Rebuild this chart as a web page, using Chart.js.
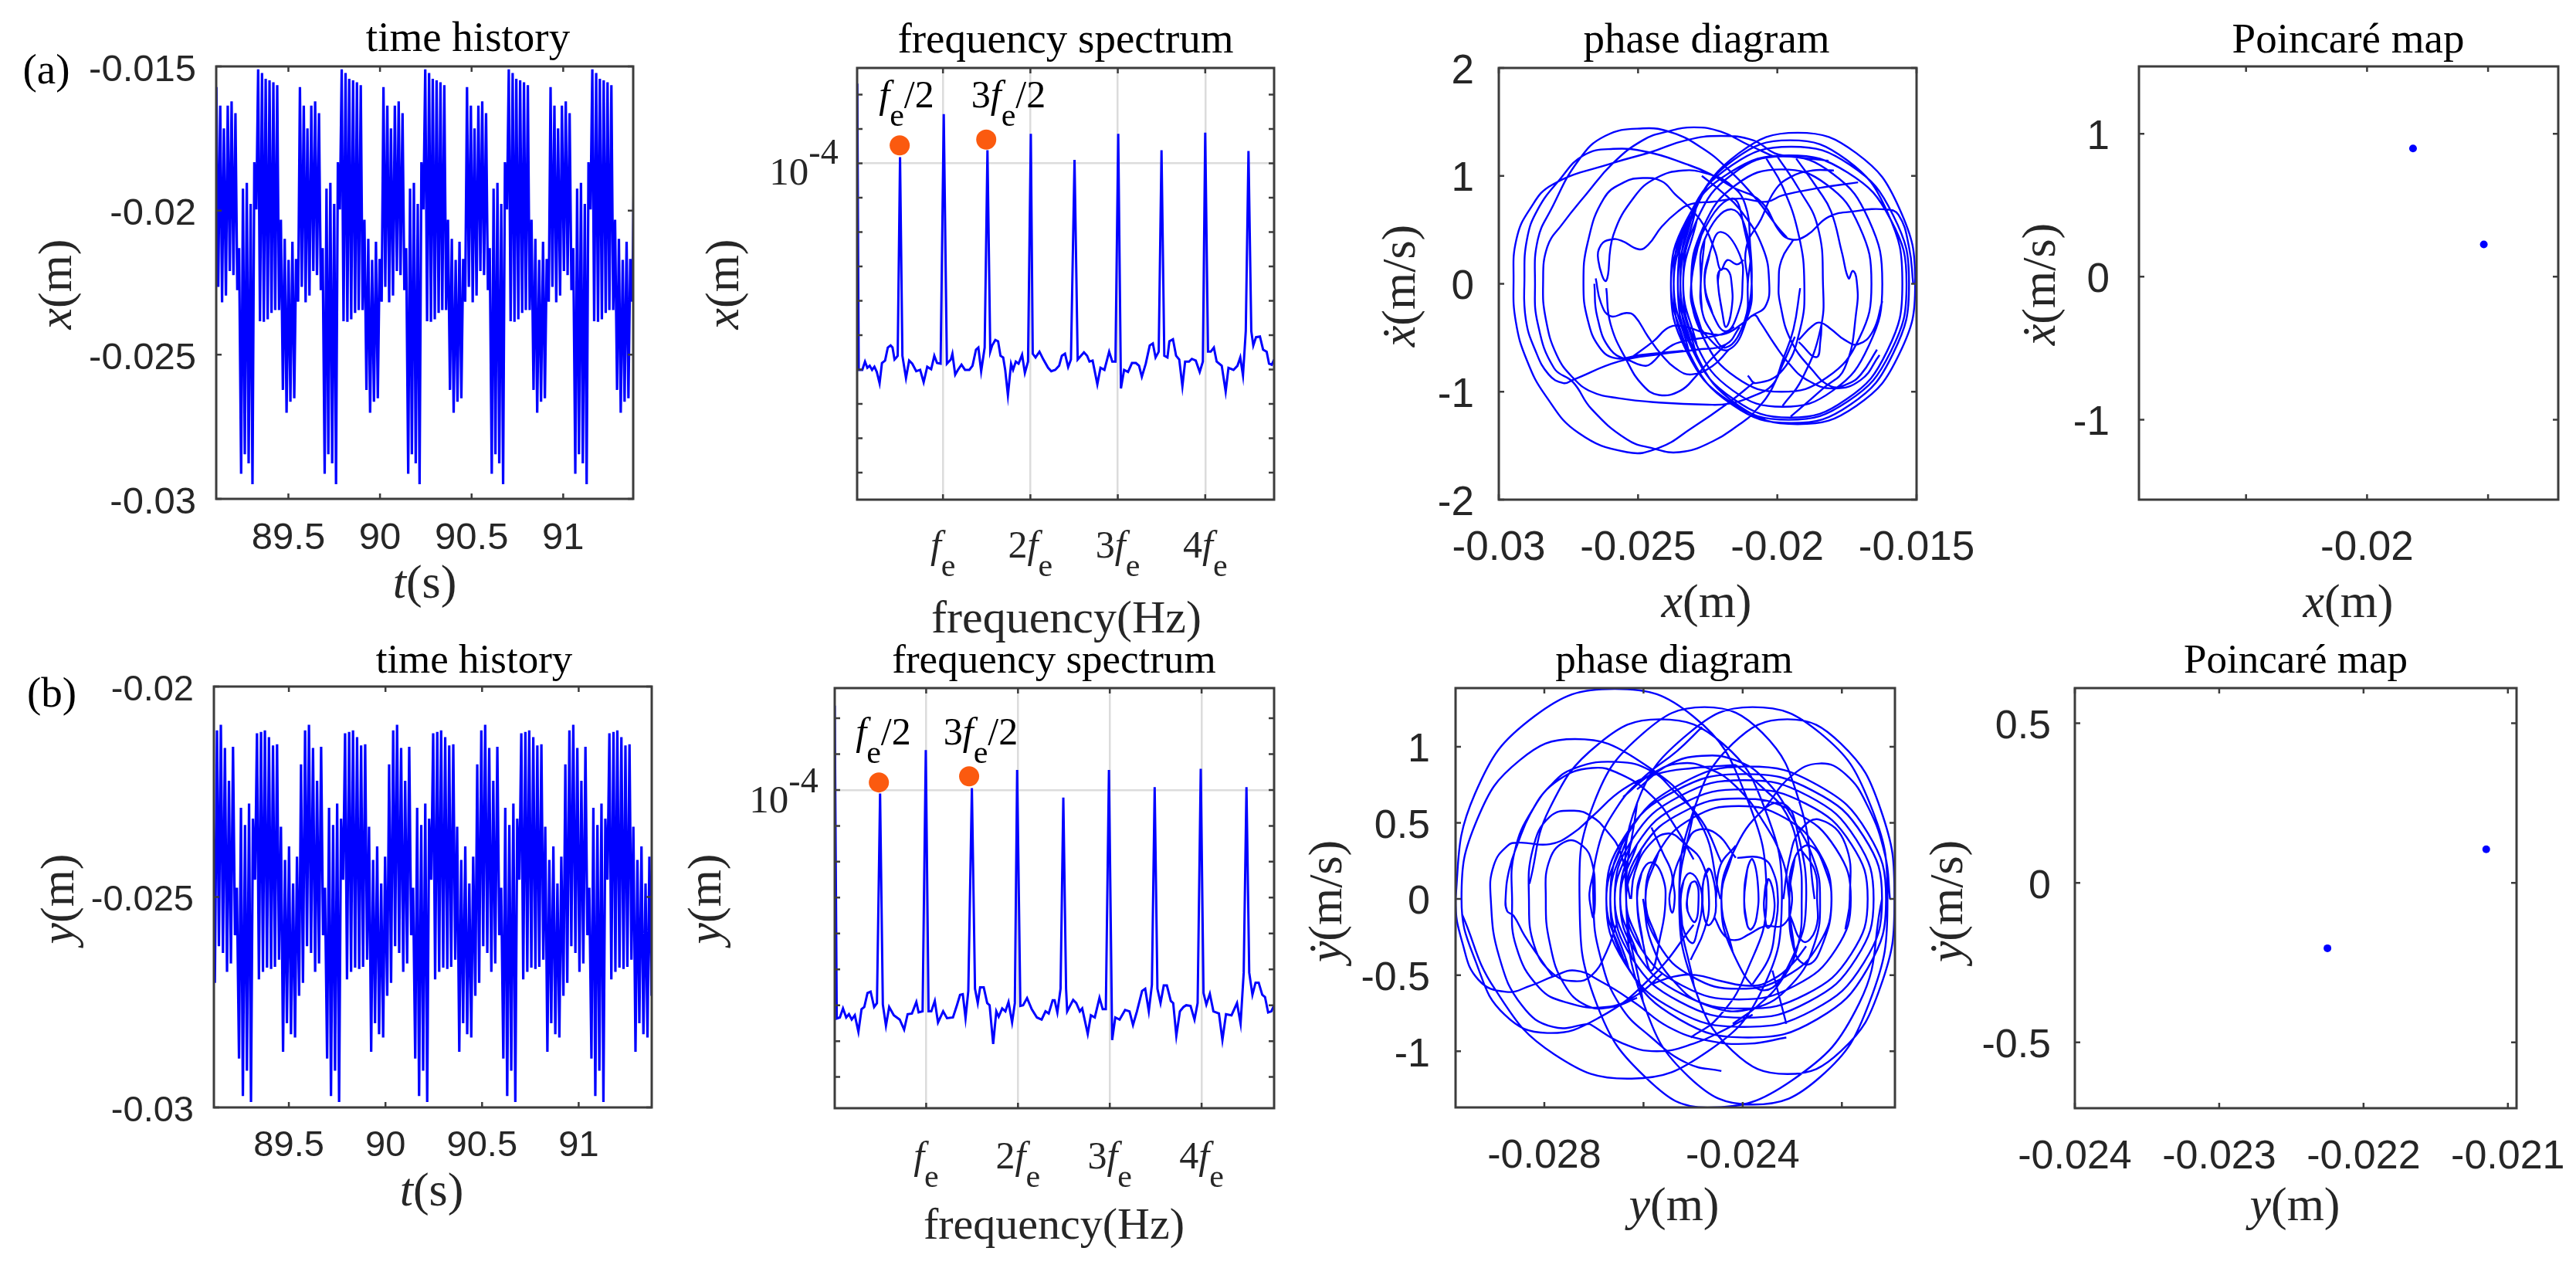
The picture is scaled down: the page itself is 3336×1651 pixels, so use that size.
<!DOCTYPE html>
<html>
<head>
<meta charset="utf-8">
<title>time history, spectrum, phase diagram, Poincare map</title>
<script src="https://cdn.jsdelivr.net/npm/chart.js@4"></script>
<style>
  html, body { margin: 0; padding: 0; background: #fff; }
  body { position: relative; width: 3336px; height: 1651px; overflow: hidden; }
  canvas { position: absolute; }
</style>
</head>
<body>
<script>
// sample times (seconds)
const timeStamps = [89.100,
  89.107,89.117,89.128,89.138,89.148,89.159,89.169,89.180,89.190,89.200,89.211,89.221,89.231,89.242,89.252,89.262,89.273,89.283,89.294,89.304,89.314,89.325,89.335,89.345,89.356,89.366,89.376,89.387,89.397,89.408,89.418,89.428,89.439,89.449,89.459,89.470,89.480,89.490,89.501,89.511,89.522,89.532,89.542,89.553,
  89.563,89.573,89.584,89.594,89.604,89.615,89.625,89.636,89.646,89.656,89.667,89.677,89.687,89.698,89.708,89.718,89.729,89.739,89.750,89.760,89.770,89.781,89.791,89.801,89.812,89.822,89.832,89.843,89.853,89.864,89.874,89.884,89.895,89.905,89.915,89.926,89.936,89.946,89.957,89.967,89.978,89.988,89.998,90.009,
  90.019,90.029,90.040,90.050,90.060,90.071,90.081,90.092,90.102,90.112,90.123,90.133,90.143,90.154,90.164,90.174,90.185,90.195,90.206,90.216,90.226,90.237,90.247,90.257,90.268,90.278,90.288,90.299,90.309,90.320,90.330,90.340,90.351,90.361,90.371,90.382,90.392,90.402,90.413,90.423,90.434,90.444,90.454,90.465,
  90.475,90.485,90.496,90.506,90.516,90.527,90.537,90.548,90.558,90.568,90.579,90.589,90.599,90.610,90.620,90.630,90.641,90.651,90.662,90.672,90.682,90.693,90.703,90.713,90.724,90.734,90.744,90.755,90.765,90.776,90.786,90.796,90.807,90.817,90.827,90.838,90.848,90.858,90.869,90.879,90.890,90.900,90.910,90.921,
  90.931,90.941,90.952,90.962,90.972,90.983,90.993,91.004,91.014,91.024,91.035,91.045,91.055,91.066,91.076,91.086,91.097,91.107,91.118,91.128,91.138,91.149,91.159,91.169,91.180,91.190,91.200,91.211,91.221,91.232,91.242,91.252,91.263,91.273,91.283,91.294,91.304,91.314,91.325,91.335,91.346,91.356,91.366,91.377,
  91.387];

// x(t), alternating crest / trough
const xHistory = [-.0182,
  -.01572,-.02265,-.01636,-.02318,-.01715,-.02295,-.01636,-.02210,-.01621,-.02224,-.01662,-.02276,-.02130,-.02913,-.01924,-.02845,-.01904,-.02877,-.01977,-.02949,-.01832,-.01996,-.01510,-.02384,-.01523,-.02386,-.01543,-.02377,-.01548,-.02355,-.01555,-.02345,-.01565,-.02345,-.02032,-.02622,-.02098,-.02701,-.02171,-.02663,-.02108,-.02651,-.02168,-.02316,
  -.01572,-.02265,-.01636,-.02318,-.01715,-.02295,-.01636,-.02210,-.01621,-.02224,-.01662,-.02276,-.02130,-.02913,-.01924,-.02845,-.01904,-.02877,-.01977,-.02949,-.01832,-.01996,-.01510,-.02384,-.01523,-.02386,-.01543,-.02377,-.01548,-.02355,-.01555,-.02345,-.01565,-.02345,-.02032,-.02622,-.02098,-.02701,-.02171,-.02663,-.02108,-.02651,-.02168,-.02316,
  -.01572,-.02265,-.01636,-.02318,-.01715,-.02295,-.01636,-.02210,-.01621,-.02224,-.01662,-.02276,-.02130,-.02913,-.01924,-.02845,-.01904,-.02877,-.01977,-.02949,-.01832,-.01996,-.01510,-.02384,-.01523,-.02386,-.01543,-.02377,-.01548,-.02355,-.01555,-.02345,-.01565,-.02345,-.02032,-.02622,-.02098,-.02701,-.02171,-.02663,-.02108,-.02651,-.02168,-.02316,
  -.01572,-.02265,-.01636,-.02318,-.01715,-.02295,-.01636,-.02210,-.01621,-.02224,-.01662,-.02276,-.02130,-.02913,-.01924,-.02845,-.01904,-.02877,-.01977,-.02949,-.01832,-.01996,-.01510,-.02384,-.01523,-.02386,-.01543,-.02377,-.01548,-.02355,-.01555,-.02345,-.01565,-.02345,-.02032,-.02622,-.02098,-.02701,-.02171,-.02663,-.02108,-.02651,-.02168,-.02316,
  -.01572,-.02265,-.01636,-.02318,-.01715,-.02295,-.01636,-.02210,-.01621,-.02224,-.01662,-.02276,-.02130,-.02913,-.01924,-.02845,-.01904,-.02877,-.01977,-.02949,-.01832,-.01996,-.01510,-.02384,-.01523,-.02386,-.01543,-.02377,-.01548,-.02355,-.01555,-.02345,-.01565,-.02345,-.02032,-.02622,-.02098,-.02701,-.02171,-.02663,-.02108,-.02651,-.02168,-.02316,
  -.0182];

// y(t), alternating crest / trough
const yHistory = [-.0222,
  -.02185,-.02704,-.02104,-.02617,-.02091,-.02633,-.02146,-.02678,-.02224,-.02658,-.02143,-.02591,-.02478,-.02884,-.02288,-.02973,-.02329,-.02913,-.02278,-.02987,-.02314,-.02459,-.02111,-.02696,-.02108,-.02678,-.02104,-.02668,-.02120,-.02671,-.02140,-.02666,-.02137,-.02649,-.02333,-.02868,-.02412,-.02800,-.02380,-.02826,-.02468,-.02834,-.02404,-.02735,
  -.02185,-.02704,-.02104,-.02617,-.02091,-.02633,-.02146,-.02678,-.02224,-.02658,-.02143,-.02591,-.02478,-.02884,-.02288,-.02973,-.02329,-.02913,-.02278,-.02987,-.02314,-.02459,-.02111,-.02696,-.02108,-.02678,-.02104,-.02668,-.02120,-.02671,-.02140,-.02666,-.02137,-.02649,-.02333,-.02868,-.02412,-.02800,-.02380,-.02826,-.02468,-.02834,-.02404,-.02735,
  -.02185,-.02704,-.02104,-.02617,-.02091,-.02633,-.02146,-.02678,-.02224,-.02658,-.02143,-.02591,-.02478,-.02884,-.02288,-.02973,-.02329,-.02913,-.02278,-.02987,-.02314,-.02459,-.02111,-.02696,-.02108,-.02678,-.02104,-.02668,-.02120,-.02671,-.02140,-.02666,-.02137,-.02649,-.02333,-.02868,-.02412,-.02800,-.02380,-.02826,-.02468,-.02834,-.02404,-.02735,
  -.02185,-.02704,-.02104,-.02617,-.02091,-.02633,-.02146,-.02678,-.02224,-.02658,-.02143,-.02591,-.02478,-.02884,-.02288,-.02973,-.02329,-.02913,-.02278,-.02987,-.02314,-.02459,-.02111,-.02696,-.02108,-.02678,-.02104,-.02668,-.02120,-.02671,-.02140,-.02666,-.02137,-.02649,-.02333,-.02868,-.02412,-.02800,-.02380,-.02826,-.02468,-.02834,-.02404,-.02735,
  -.02185,-.02704,-.02104,-.02617,-.02091,-.02633,-.02146,-.02678,-.02224,-.02658,-.02143,-.02591,-.02478,-.02884,-.02288,-.02973,-.02329,-.02913,-.02278,-.02987,-.02314,-.02459,-.02111,-.02696,-.02108,-.02678,-.02104,-.02668,-.02120,-.02671,-.02140,-.02666,-.02137,-.02649,-.02333,-.02868,-.02412,-.02800,-.02380,-.02826,-.02468,-.02834,-.02404,-.02735,
  -.0222];

// spectra: frequency in units of fe, amplitude as log10(m)
const xSpecFreq = [.02,.036,.077,.108,.135,.162,.189,.216,.243,.275,.302,.338,.369,.401,.423,.446,.468,.482,.509,.536,.577,.613,.649,.694,.739,.779,.820,.865,.901,.932,.973,1.009,1.045,1.090,1.108,1.140,1.171,1.212,1.252,1.302,1.338,1.378,1.405,1.437,1.477,1.509,1.541,1.563,1.599,1.631,1.658,1.689,1.712,1.743,1.779,1.802,1.833,1.865,1.905,1.937,1.973,2.005,2.027,2.059,2.104,2.149,2.203,2.239,2.284,2.329,2.360,2.396,2.432,2.464,2.505,2.541,2.613,2.649,2.676,2.712,2.766,2.802,2.847,2.901,2.937,2.973,3.005,3.036,3.072,3.117,3.162,3.207,3.243,3.275,3.320,3.365,3.401,3.432,3.468,3.500,3.532,3.568,3.590,3.631,3.667,3.703,3.739,3.770,3.815,3.847,3.892,3.937,3.973,4.000,4.032,4.063,4.099,4.131,4.189,4.234,4.266,4.324,4.369,4.401,4.432,4.464,4.495,4.527,4.550,4.581,4.626,4.662,4.703,4.730,4.761,4.788];
const xSpecLog = [-1.68,-10.01,-10.01,-9.77,-9.95,-9.89,-10.01,-9.92,-10.07,-10.40,-9.81,-9.74,-9.36,-9.30,-9.36,-9.71,-9.65,-9.60,-3.82,-9.60,-10.25,-9.74,-9.83,-10.05,-10.01,-10.37,-9.92,-9.99,-9.60,-9.81,-9.83,-2.57,-9.83,-9.71,-9.54,-10.15,-10.01,-9.86,-10.01,-10.01,-9.89,-9.42,-9.36,-10.05,-9.36,-3.62,-9.48,-9.30,-9.14,-9.18,-9.60,-9.65,-10.01,-10.75,-9.83,-10.01,-9.77,-9.83,-9.57,-10.10,-9.77,-3.14,-9.54,-9.65,-9.48,-9.71,-9.95,-10.05,-10.01,-9.89,-9.60,-9.54,-9.93,-9.71,-3.90,-9.71,-9.50,-9.60,-9.77,-9.74,-10.43,-9.95,-10.01,-9.48,-9.77,-9.77,-3.14,-10.55,-10.01,-10.07,-9.81,-9.81,-9.89,-10.21,-9.83,-9.30,-9.24,-9.65,-9.48,-3.62,-9.60,-9.65,-9.18,-9.12,-9.60,-9.71,-10.49,-9.77,-9.77,-9.69,-9.74,-10.07,-9.77,-3.11,-9.48,-9.48,-9.36,-9.77,-9.89,-10.64,-9.95,-10.01,-9.89,-9.65,-10.17,-8.88,-3.64,-8.88,-9.30,-9.06,-9.04,-9.42,-9.48,-9.83,-9.86,-9.71];
const ySpecFreq = [.004,.026,.060,.094,.129,.159,.189,.223,.262,.296,.326,.361,.395,.433,.464,.498,.528,.562,.597,.648,.712,.760,.798,.845,.893,.918,.961,.996,1.026,1.056,1.094,1.129,1.185,1.227,1.292,1.335,1.369,1.399,1.429,1.459,1.498,1.532,1.562,1.588,1.627,1.665,1.691,1.730,1.764,1.790,1.828,1.863,1.897,1.936,1.966,1.991,2.026,2.056,2.099,2.150,2.206,2.258,2.300,2.335,2.378,2.399,2.429,2.464,2.494,2.524,2.536,2.601,2.635,2.674,2.700,2.760,2.794,2.837,2.888,2.923,2.957,2.991,3.026,3.060,3.107,3.167,3.215,3.253,3.296,3.352,3.386,3.425,3.459,3.489,3.519,3.553,3.588,3.622,3.665,3.691,3.725,3.764,3.803,3.833,3.880,3.923,3.957,3.991,4.021,4.052,4.090,4.129,4.189,4.227,4.266,4.326,4.386,4.425,4.459,4.489,4.519,4.554,4.588,4.622,4.661,4.691,4.725,4.760,4.790];
const ySpecLog = [-1.65,-10.37,-10.34,-10.09,-10.34,-10.25,-10.40,-10.28,-10.74,-10.11,-10.05,-9.66,-9.62,-10.05,-9.94,-4.10,-9.98,-10.57,-10.05,-10.28,-10.40,-10.68,-10.25,-10.23,-9.91,-10.20,-10.17,-2.89,-10.17,-10.17,-9.88,-10.48,-10.17,-10.36,-10.34,-10.00,-9.71,-9.69,-10.36,-9.60,-3.95,-9.54,-9.94,-9.50,-9.50,-9.94,-10.00,-11.08,-10.17,-10.32,-10.09,-10.17,-9.91,-10.48,-9.94,-3.44,-10.02,-10.00,-9.80,-10.11,-10.34,-10.40,-10.17,-10.23,-9.86,-9.86,-10.20,-9.54,-4.21,-9.54,-10.17,-9.85,-9.94,-10.17,-10.09,-10.80,-10.28,-10.34,-9.79,-10.11,-10.11,-3.44,-10.97,-10.34,-10.40,-10.13,-10.17,-10.55,-10.17,-9.60,-9.54,-10.17,-9.43,-3.92,-9.54,-9.94,-9.45,-9.45,-9.88,-9.94,-10.85,-10.17,-10.05,-10.00,-10.02,-10.40,-9.94,-3.41,-9.66,-9.98,-9.68,-10.17,-10.23,-10.97,-10.25,-10.28,-9.94,-10.51,-9.09,-3.92,-9.09,-9.71,-9.37,-9.37,-9.71,-9.77,-10.20,-10.17,-10.00];

// orange markers over the fe/2 and 3fe/2 peaks
const xMarkFreq = [.505, 1.495];
const xMarkLog = [-3.48, -3.31];
const yMarkFreq = [.485, 1.468];
const yMarkLog = [-3.79, -3.62];

const specTicks = [1, 2, 3, 4];
const specTickPrefix = ['', '2', '3', '4'];
const xSpecDecades = [-2,-3,-4,-5,-6,-7,-8,-9,-10,-11,-12,-13];
const ySpecDecades = [-2,-3,-4,-5,-6,-7,-8,-9,-10,-11,-12];

// phase diagram of x: traced strokes of [x, xdot]
const xPhaseStrokes = [
  [[-.02947,.03],[-.02937,.41],[-.02889,.69],[-.02807,.92],[-.02589,1.12],[-.02454,1.22],[-.02328,1.33],[-.02203,1.37],[-.02087,1.33],[-.02010,1.21],[-.01952,1.18],[-.01816,1.14]],
  [[-.02947,.03],[-.02939,-.35],[-.02899,-.71],[-.02831,-1.04],[-.02715,-1.38],[-.02540,-1.56],[-.02425,-1.52],[-.02309,-1.34],[-.02174,-1.10],[-.02087,-.92]],
  [[-.02908,.03],[-.02899,.41],[-.02860,.69],[-.02783,.96],[-.02696,1.19],[-.02589,1.25],[-.02464,1.22],[-.02328,1.11],[-.02242,1.02],[-.02164,.90],[-.02058,.76],[-.01990,.48],[-.01947,.41],[-.01894,.45],[-.01816,.62],[-.01729,.67],[-.01613,.69],[-.01565,.64],[-.01527,.34],[-.01512,0]],
  [[-.02908,.03],[-.02903,-.33],[-.02870,-.61],[-.02821,-.84],[-.02768,-.92],[-.02734,-.89],[-.02570,-.72],[-.02415,-.65],[-.02290,-.61],[-.02184,-.56],[-.02135,-.40]],
  [[-.02841,0],[-.02826,.34],[-.02773,.55],[-.02686,.83],[-.02589,1.12],[-.02483,1.33],[-.02396,1.41],[-.02300,1.45],[-.02203,1.41],[-.02106,1.29],[-.02014,1.18]],
  [[-.02841,0],[-.02831,-.33],[-.02792,-.66],[-.02734,-.87],[-.02667,-1.00],[-.02570,-1.06],[-.02425,-1.10],[-.02251,-1.12],[-.02174,-1.11],[-.02087,-1.04],[-.02019,-.94],[-.01981,-.75],[-.01937,-.49]],
  [[-.02870,0],[-.02860,.41],[-.02812,.69],[-.02715,1.14],[-.02618,1.37],[-.02483,1.44],[-.02377,1.40],[-.02271,1.26],[-.02184,1.08],[-.02077,.79],[-.02000,.53],[-.01966,.43]],
  [[-.02870,0],[-.02860,-.37],[-.02802,-.78],[-.02734,-.91],[-.02667,-1.16],[-.02541,-1.44],[-.02454,-1.52],[-.02351,-1.56],[-.02232,-1.46],[-.02135,-1.30],[-.02087,-1.20],[-.02019,-.97],[-.01981,-.71],[-.01942,-.42],[-.01918,-.04]],
  [[-.02614,.03],[-.02589,.45],[-.02512,.81],[-.02435,.98],[-.02338,1.05],[-.02251,1.02],[-.02174,.93],[-.02116,.74],[-.02097,.34],[-.02092,0],[-.02106,-.30]],
  [[-.02614,.03],[-.02643,.22],[-.02633,.36],[-.02599,.41],[-.02560,.40],[-.02498,.32],[-.02464,.36],[-.02415,.53],[-.02357,.67],[-.02309,.74],[-.02232,.76],[-.02135,.79],[-.02039,.76],[-.01981,.82],[-.01845,.89],[-.01710,.94]],
  [[-.02696,0],[-.02681,.38],[-.02623,.79],[-.02551,.94],[-.02483,.98],[-.02415,.95],[-.02367,.83],[-.02309,.69],[-.02261,.53],[-.02222,.29],[-.02203,.13],[-.02179,.22],[-.02145,.18],[-.02121,.22]],
  [[-.02696,0],[-.02681,-.33],[-.02638,-.59],[-.02580,-.69],[-.02493,-.66],[-.02338,-.62]],
  [[-.02657,0],[-.02647,-.30],[-.02599,-.61],[-.02522,-.72],[-.02473,-.76],[-.02449,-.73],[-.02406,-.62],[-.02348,-.54],[-.02203,-.47],[-.02155,-.40]],
  [[-.02652,.05],[-.02633,-.18],[-.02599,-.30],[-.02541,-.27],[-.02512,-.30],[-.02464,-.49],[-.02415,-.66],[-.02367,-.78],[-.02309,-.84],[-.02232,-.76],[-.02174,-.61]],
  [[-.02614,-.04],[-.02599,-.37],[-.02541,-.71],[-.02483,-.94],[-.02425,-1.03],[-.02348,-.99],[-.02290,-.85],[-.02242,-.71],[-.02184,-.56]],
  [[-.02522,-.68],[-.02444,-.53],[-.02386,-.40],[-.02328,-.40],[-.02251,-.46],[-.02184,-.46],[-.02116,-.35],[-.02082,-.29],[-.02063,-.35],[-.02010,-.56],[-.01961,-.73],[-.01894,-.89],[-.01797,-.97],[-.01700,-.89],[-.01633,-.66]],
  [[-.02382,0],[-.02325,.595],[-.02171,1.03],[-.01959,1.19],[-.01747,1.03],[-.01593,.595],[-.01536,0],[-.01593,-.63],[-.01747,-1.09],[-.01959,-1.26],[-.02171,-1.09],[-.02325,-.63],[-.02382,0]],
  [[-.02372,0],[-.02316,.635],[-.02162,1.10],[-.01950,1.27],[-.01738,1.10],[-.01584,.635],[-.01527,0],[-.01584,-.645],[-.01738,-1.12],[-.01950,-1.29],[-.02162,-1.12],[-.02316,-.645],[-.02372,0]],
  [[-.02348,0],[-.02292,.70],[-.02138,1.21],[-.01927,1.40],[-.01716,1.21],[-.01562,.70],[-.01505,0],[-.01562,-.65],[-.01716,-1.13],[-.01927,-1.30],[-.02138,-1.13],[-.02292,-.65],[-.02348,0]],
  [[-.02357,0],[-.02303,.665],[-.02156,1.15],[-.01954,1.33],[-.01752,1.15],[-.01605,.665],[-.01551,0],[-.01605,-.62],[-.01752,-1.07],[-.01954,-1.24],[-.02156,-1.07],[-.02303,-.62],[-.02357,0]],
  [[-.02338,0],[-.02289,.59],[-.02159,1.02],[-.01980,1.18],[-.01801,1.02],[-.01671,.59],[-.01623,0],[-.01671,-.57],[-.01801,-.99],[-.01980,-1.14],[-.02159,-.99],[-.02289,-.57],[-.02338,0]],
  [[-.02309,0],[-.02265,.53],[-.02147,.92],[-.01985,1.06],[-.01823,.92],[-.01705,.53],[-.01662,0],[-.01705,-.50],[-.01823,-.87],[-.01985,-1.00],[-.02147,-.87],[-.02265,-.50],[-.02309,0]],
  [[-.01995,0],[-.01985,.22],[-.01942,.41]],
  [[-.01995,0],[-.01990,-.18],[-.01952,-.52],[-.01874,-.80],[-.01807,-.95],[-.01749,-.93],[-.01700,-.84],[-.01642,-.61]],
  [[-.01836,0],[-.01855,.53],[-.01923,.88],[-.02000,1.18]],
  [[-.01836,0],[-.01845,-.42],[-.01913,-.89],[-.01981,-1.13]],
  [[-.01903,0],[-.01923,.45],[-.01981,.90],[-.02039,1.16]],
  [[-.01903,0],[-.01918,-.42],[-.01981,-.80],[-.02077,-.92],[-.02106,-.85]],
  [[-.02029,0],[-.02053,.34],[-.02135,.69],[-.02203,.86],[-.02271,1.00]],
  [[-.02029,0],[-.02043,-.21],[-.02087,-.29]],
  [[-.01744,.05],[-.01729,.12],[-.01715,.03],[-.01715,-.23],[-.01758,-.78],[-.01836,-.97],[-.01952,-1.23]],
  [[-.01744,.05],[-.01768,.29],[-.01807,.67],[-.01855,.88],[-.01932,1.16]],
  [[-.01923,-.52],[-.01874,-.39],[-.01845,-.36],[-.01807,-.42],[-.01758,-.52],[-.01710,-.56],[-.01657,-.44],[-.01623,-.16]],
  [[-.01923,-.54],[-.01860,-.68],[-.01845,-.52],[-.01841,-.37]],
  [[-.02213,0],[-.02198,-.26],[-.02184,-.40],[-.02164,-.23],[-.02164,0],[-.02179,.13],[-.02208,.12],[-.02213,0]],
  [[-.02261,0],[-.02242,.29],[-.02203,.48],[-.02135,.27],[-.02125,0],[-.02140,-.26],[-.02184,-.44],[-.02232,-.28],[-.02261,0]],
  [[-.02309,0],[-.02280,.41],[-.02164,.79],[-.02116,.48],[-.02092,0],[-.02106,-.30],[-.02174,-.61],[-.02251,-.49],[-.02300,-.26],[-.02309,0]],
  [[-.02275,0],[-.02261,.41],[-.02164,.69],[-.02101,.38],[-.02106,0],[-.02116,-.33],[-.02184,-.59],[-.02242,-.42],[-.02271,-.24],[-.02275,0]],
  [[-.02106,0],[-.02111,.34],[-.02058,.60],[-.02010,.86],[-.01952,.99],[-.01874,1.05],[-.01797,1.05]]
];

// phase diagram of y: traced strokes of [y, ydot]
const yPhaseStrokes = [
  [[-.02979,0],[-.02940,.69],[-.02820,1.20],[-.02658,1.38],[-.02500,1.20],[-.02395,.69],[-.02352,0],[-.02395,-.50],[-.02450,-.78],[-.02505,-.91]],
  [[-.02979,0],[-.02965,-.29],[-.02933,-.53],[-.02877,-.61],[-.02828,-.57],[-.02783,-.51],[-.02738,-.47],[-.02687,-.54],[-.02618,-.68],[-.02550,-.84],[-.02471,-.93],[-.02386,-.95],[-.02312,-.91]],
  [[-.02967,0],[-.02935,.525],[-.02850,.91],[-.02738,1.05],[-.02610,.91],[-.02490,.525],[-.02445,0]],
  [[-.02967,0],[-.02935,-.44],[-.02880,-.76],[-.02794,-.88],[-.02690,-.78],[-.02580,-.50],[-.02499,-.17]],
  [[-.02908,0],[-.02902,.22],[-.02874,.35],[-.02851,.37],[-.02789,.36],[-.02743,.43],[-.02704,.54],[-.02641,.72],[-.02573,.82],[-.02499,.86],[-.02414,.88]],
  [[-.02908,0],[-.02891,-.38],[-.02845,-.70],[-.02783,-.84],[-.02709,-.82]],
  [[-.02783,-.51],[-.02811,-.38],[-.02840,-.24],[-.02862,-.11],[-.02875,-.08],[-.02878,.01],[-.02871,.19],[-.02854,.36],[-.02828,.56],[-.02789,.74],[-.02738,.86],[-.02652,.90],[-.02584,.84],[-.02539,.71],[-.02482,.51],[-.02443,.24]],
  [[-.02865,0],[-.02860,.31],[-.02823,.59],[-.02772,.78],[-.02704,.86],[-.02647,.82],[-.02584,.68],[-.02539,.49],[-.02499,.26]],
  [[-.02865,0],[-.02857,-.31],[-.02811,-.58],[-.02755,-.68],[-.02675,-.71],[-.02613,-.63],[-.02562,-.49]],
  [[-.02831,0],[-.02823,.33],[-.02789,.54],[-.02740,.58],[-.02704,.54],[-.02675,.45],[-.02647,.31],[-.02627,0]],
  [[-.02831,0],[-.02820,-.31],[-.02783,-.49],[-.02738,-.54],[-.02704,-.50],[-.02675,-.35],[-.02655,-.17]],
  [[-.02797,0],[-.02789,.26],[-.02755,.38],[-.02723,.35],[-.02704,.24],[-.02698,.04],[-.02701,-.12],[-.02706,-.06],[-.02709,.04],[-.02701,.17]],
  [[-.02797,0],[-.02789,-.29],[-.02760,-.56],[-.02715,-.70],[-.02664,-.71],[-.02613,-.65]],
  [[-.02729,0],[-.02700,.63],[-.02600,1.09],[-.02477,1.26],[-.02360,1.09],[-.02285,.63],[-.02255,0]],
  [[-.02729,0],[-.02695,-.685],[-.02590,-1.19],[-.02471,-1.37],[-.02300,-1.19],[-.02165,-.685],[-.02119,0]],
  [[-.02830,.10],[-.02790,.59],[-.02690,1.02],[-.02567,1.18],[-.02440,1.02],[-.02355,.59],[-.02321,0],[-.02360,-.59],[-.02470,-1.00],[-.02624,-1.18],[-.02780,-1.02],[-.02900,-.59],[-.02966,-.10]],
  [[-.02635,0],[-.02613,.63],[-.02508,1.09],[-.02380,1.26],[-.02244,1.09],[-.02144,.63],[-.02108,0],[-.02144,-.675],[-.02244,-1.17],[-.02380,-1.35],[-.02508,-1.17],[-.02601,-.675],[-.02635,0]],
  [[-.02528,0],[-.02498,.59],[-.02420,1.02],[-.02310,1.18],[-.02202,1.02],[-.02122,.59],[-.02094,0],[-.02122,-.575],[-.02202,-1.00],[-.02310,-1.15],[-.02420,-1.00],[-.02498,-.575],[-.02528,0]],
  [[-.02675,0],[-.02638,.41],[-.02536,.71],[-.02397,.82],[-.02258,.71],[-.02156,.41],[-.02119,0],[-.02156,-.42],[-.02258,-.73],[-.02397,-.84],[-.02536,-.73],[-.02638,-.42],[-.02675,0]],
  [[-.02667,0],[-.02630,.435],[-.02528,.75],[-.02389,.87],[-.02250,.75],[-.02148,.435],[-.02111,0],[-.02148,-.455],[-.02250,-.79],[-.02389,-.91],[-.02528,-.79],[-.02630,-.455],[-.02667,0]],
  [[-.02658,0],[-.02623,.39],[-.02527,.675],[-.02397,.78],[-.02267,.675],[-.02171,.39],[-.02136,0],[-.02171,-.39],[-.02267,-.675],[-.02397,-.78],[-.02527,-.675],[-.02623,-.39],[-.02658,0]],
  [[-.02647,0],[-.02613,.36],[-.02522,.625],[-.02397,.72],[-.02272,.625],[-.02181,.36],[-.02148,0],[-.02181,-.36],[-.02272,-.625],[-.02397,-.72],[-.02522,-.625],[-.02613,-.36],[-.02647,0]],
  [[-.02635,0],[-.02604,.33],[-.02521,.57],[-.02408,.66],[-.02295,.57],[-.02212,.33],[-.02182,0],[-.02212,-.33],[-.02295,-.57],[-.02408,-.66],[-.02521,-.57],[-.02604,-.33],[-.02635,0]],
  [[-.02596,0],[-.02570,.305],[-.02502,.53],[-.02408,.61],[-.02314,.53],[-.02246,.305],[-.02221,0],[-.02246,-.295],[-.02314,-.51],[-.02408,-.59],[-.02502,-.51],[-.02570,-.295],[-.02596,0]],
  [[-.02613,0],[-.02604,.17],[-.02584,.24],[-.02562,.15],[-.02556,-.03],[-.02567,-.26],[-.02584,-.47],[-.02601,-.29],[-.02613,0]],
  [[-.02625,0],[-.02618,.17],[-.02590,.35],[-.02550,.43],[-.02516,.36],[-.02482,.24],[-.02468,0],[-.02477,-.20],[-.02505,-.40]],
  [[-.02542,-.09],[-.02548,0],[-.02542,.15],[-.02562,.31],[-.02584,.47]],
  [[-.02542,-.09],[-.02537,.01],[-.02539,.15],[-.02516,.35]],
  [[-.02512,0],[-.02505,.10],[-.02494,.11],[-.02489,0],[-.02496,-.15],[-.02511,-.08],[-.02512,0]],
  [[-.02525,0],[-.02519,.12],[-.02505,.17],[-.02488,.10],[-.02482,-.04],[-.02491,-.20],[-.02502,-.29],[-.02522,-.17],[-.02525,0]],
  [[-.02479,.12],[-.02468,.20],[-.02457,.10],[-.02454,0],[-.02457,-.12],[-.02471,-.17],[-.02481,-.03],[-.02479,.12]],
  [[-.02457,-.12],[-.02437,-.24],[-.02414,-.27],[-.02386,-.23],[-.02357,-.18],[-.02318,-.17],[-.02301,-.03],[-.02306,.15]],
  [[-.02454,0],[-.02445,.22],[-.02414,.35]],
  [[-.02411,.27],[-.02363,.27],[-.02340,.19],[-.02329,0],[-.02335,-.20],[-.02346,-.38],[-.02380,-.56]],
  [[-.02516,.35],[-.02494,.45],[-.02454,.43],[-.02414,.27]],
  [[-.02397,-.01],[-.02391,-.17],[-.02383,-.20],[-.02372,-.12],[-.02369,.08],[-.02380,.26],[-.02391,.19],[-.02397,-.01]],
  [[-.02357,-.01],[-.02349,.13],[-.02338,.04],[-.02338,-.12],[-.02349,-.19],[-.02355,-.12],[-.02357,-.01]],
  [[-.02306,0],[-.02295,.27],[-.02264,.35],[-.02233,.19],[-.02221,-.03],[-.02238,-.29],[-.02267,-.43],[-.02295,-.35],[-.02306,0]],
  [[-.02318,0],[-.02306,.26],[-.02284,.45],[-.02244,.52],[-.02193,.36],[-.02184,0],[-.02193,-.20]],
  [[-.02306,-.10],[-.02278,-.28],[-.02253,-.20],[-.02250,0],[-.02255,.19],[-.02284,.33]],
  [[-.02584,-.56],[-.02539,-.51],[-.02494,-.50],[-.02443,-.54],[-.02386,-.57],[-.02346,-.54],[-.02301,-.43],[-.02272,-.31]],
  [[-.02357,.59],[-.02301,.81],[-.02244,.89],[-.02193,.82],[-.02148,.61],[-.02113,.29],[-.02103,0]],
  [[-.02340,-.47],[-.02312,-.82]],
  [[-.02701,-.03],[-.02692,.33],[-.02652,.61],[-.02596,.81],[-.02533,.97],[-.02482,1.13]],
  [[-.02701,-.03],[-.02687,-.38],[-.02647,-.70],[-.02584,-.91],[-.02511,-1.08],[-.02443,-1.13]],
  [[-.02281,0],[-.02287,.29],[-.02312,.56],[-.02363,.74],[-.02414,.88]],
  [[-.02281,0],[-.02289,-.31],[-.02323,-.54],[-.02369,-.70],[-.02420,-.82]],
  [[-.02709,-.82],[-.02641,-.95],[-.02573,-1.00],[-.02499,-.95],[-.02437,-.86],[-.02380,-.76]],
  [[-.02443,0],[-.02420,.30],[-.02357,.59],[-.02315,.62],[-.02290,.45],[-.02272,0],[-.02295,-.35],[-.02357,-.60],[-.02420,-.35],[-.02443,0]],
  [[-.02641,.67],[-.02584,.82],[-.02528,.89],[-.02471,.86],[-.02414,.74],[-.02357,.50],[-.02318,.24],[-.02306,0]],
  [[-.02613,.72],[-.02550,.88],[-.02482,.94],[-.02414,.91],[-.02357,.79],[-.02301,.54],[-.02255,.24],[-.02244,0],[-.02255,-.29],[-.02301,-.56],[-.02380,-.72],[-.02471,-.70],[-.02539,-.54],[-.02584,-.29],[-.02601,0]]
];

// Poincare map points
const xMapX = [-.01924, -.01807];
const xMapV = [.898, .226];
const yMapX = [-.02115, -.02225];
const yMapV = [.105, -.205];

// tick positions and tick labels
const timeTicks = [89.5, 90, 90.5, 91];
const timeTickLabels = ['89.5', '90', '90.5', '91'];
const xHistTicks = [-.03, -.025, -.02, -.015];
const xHistTickLabels = ['-0.03', '-0.025', '-0.02', '-0.015'];
const yHistTicks = [-.03, -.025, -.02];
const yHistTickLabels = ['-0.03', '-0.025', '-0.02'];
const xPhaseVTicks = [-2, -1, 0, 1, 2];
const xPhaseVLabels = ['-2', '-1', '0', '1', '2'];
const yPhaseXTicks = [-.028, -.026, -.024, -.022];
const yPhaseXLabels = ['-0.028', '', '-0.024', ''];
const yPhaseVTicks = [-1, -.5, 0, .5, 1];
const yPhaseVLabels = ['-1', '-0.5', '0', '0.5', '1'];
const xMapXTicks = [-.022, -.02, -.018];
const xMapXLabels = ['', '-0.02', ''];
const xMapVTicks = [-1, 0, 1];
const xMapVLabels = ['-1', '0', '1'];
const yMapXTicks = [-.024, -.023, -.022, -.021];
const yMapXLabels = ['-0.024', '-0.023', '-0.022', '-0.021'];
const yMapVTicks = [-.5, 0, .5];
const yMapVLabels = ['-0.5', '0', '0.5'];

const BLUE = '#0000ff';
const INK = '#262626';
const SERIF = '"Liberation Serif", "Times New Roman", serif';
const SANS = '"Liberation Sans", Arial, sans-serif';

function zip(xs, ys) {
  return xs.map((x, i) => ({ x: x, y: ys[i] }));
}

function samePoint(a, b) {
  return a[0] === b[0] && a[1] === b[1];
}

// strokes go into one line dataset, broken by gaps.
// two halves starting at one point are joined, closed loops overlap at the seam,
// so the spline stays round there
function strokesToPoints(strokes) {
  const out = [];
  for (let i = 0; i < strokes.length; i++) {
    let s = strokes[i];
    const next = strokes[i + 1];
    if (next && samePoint(s[0], next[0])) {
      s = s.slice().reverse().concat(next.slice(1));
      i++;
    } else if (s.length > 3 && samePoint(s[0], s[s.length - 1])) {
      s = [s[s.length - 2]].concat(s, [s[1]]);
    }
    s.forEach(p => out.push({ x: p[0], y: p[1] }));
    out.push({ x: NaN, y: NaN });
  }
  return out;
}

function amp(logs) {
  return logs.map(v => Math.pow(10, v));
}

function labelSegs(name, unit) {
  return [{ t: name, italic: true }, { t: '(' + unit + ')' }];
}

function feSegs(prefix, suffix) {
  const segs = [];
  if (prefix) segs.push({ t: prefix });
  segs.push({ t: 'f', italic: true });
  segs.push({ t: 'e', size: 42, dy: 24 });
  if (suffix) segs.push({ t: suffix });
  return segs;
}

// mixed-style text, positions are page pixels
function drawRich(ctx, item, originX, originY) {
  const base = item.size || 62;
  const fontOf = seg => (seg.italic ? 'italic ' : '') + (seg.size || base) + 'px ' + (item.family || SERIF);
  let width = 0;
  item.segs.forEach(seg => {
    ctx.font = fontOf(seg);
    width += ctx.measureText(seg.t).width;
  });
  ctx.save();
  ctx.translate(item.x - originX, item.y - originY);
  if (item.rotate) ctx.rotate(-Math.PI / 2);
  ctx.fillStyle = item.color || INK;
  ctx.textBaseline = 'alphabetic';
  ctx.textAlign = 'left';
  let cursor = -width / 2;
  item.segs.forEach(seg => {
    ctx.font = fontOf(seg);
    ctx.fillText(seg.t, cursor, seg.dy || 0);
    cursor += ctx.measureText(seg.t).width;
  });
  ctx.restore();
}

const framePlugin = {
  id: 'frame',
  afterDatasetsDraw(chart) {
    const ctx = chart.ctx;
    const area = chart.chartArea;
    const p = chart.options.plugins.frame;
    ctx.save();
    ctx.strokeStyle = '#3c3c3c';
    ctx.lineWidth = 2.5;
    chart.scales.x.ticks.forEach(t => {
      const px = chart.scales.x.getPixelForValue(t.value);
      ctx.beginPath();
      ctx.moveTo(px, area.top); ctx.lineTo(px, area.top + 7);
      ctx.moveTo(px, area.bottom); ctx.lineTo(px, area.bottom - 7);
      ctx.stroke();
    });
    chart.scales.y.ticks.forEach(t => {
      const py = chart.scales.y.getPixelForValue(t.value);
      ctx.beginPath();
      ctx.moveTo(area.left, py); ctx.lineTo(area.left + 7, py);
      ctx.moveTo(area.right, py); ctx.lineTo(area.right - 7, py);
      ctx.stroke();
    });
    ctx.lineWidth = 3;
    ctx.strokeRect(area.left, area.top, area.right - area.left, area.bottom - area.top);
    ctx.restore();

    p.texts.forEach(item => drawRich(ctx, item, p.box[0], p.box[1]));
    if (p.feTickY) {
      specTicks.forEach((v, i) => {
        const px = chart.scales.x.getPixelForValue(v);
        drawRich(ctx, { x: px + p.box[0], y: p.feTickY, size: 50, segs: feSegs(specTickPrefix[i], '') }, p.box[0], p.box[1]);
      });
    }
  }
};

// thickness is the room kept beside the plot for this axis, in page pixels
function makeAxis(o, isX, thickness) {
  return {
    type: o.type || 'linear',
    min: o.min,
    max: o.max,
    afterFit(scale) {
      if (isX) scale.height = thickness; else scale.width = thickness;
      scale.paddingLeft = scale.paddingRight = scale.paddingTop = scale.paddingBottom = 0;
    },
    afterBuildTicks(scale) {
      scale.ticks = o.ticks.map(v => ({ value: v }));
    },
    border: { display: false },
    grid: o.grid || { display: false },
    ticks: {
      display: !!o.labels,
      autoSkip: false,
      maxRotation: 0,
      minRotation: 0,
      padding: o.padding,
      labelOffset: isX ? 0 : 5,
      color: INK,
      font: { family: SANS, size: o.font },
      callback: (v, i) => (o.labels ? o.labels[i] : '')
    }
  };
}

function makePanel(p) {
  const canvas = document.createElement('canvas');
  const [bx, by, bw, bh] = p.box;
  canvas.width = bw;
  canvas.height = bh;
  canvas.style.left = bx + 'px';
  canvas.style.top = by + 'px';
  canvas.style.width = bw + 'px';
  canvas.style.height = bh + 'px';
  document.body.appendChild(canvas);
  new Chart(canvas.getContext('2d'), {
    type: 'scatter',
    data: { datasets: p.datasets },
    plugins: [framePlugin],
    options: {
      responsive: false,
      animation: false,
      devicePixelRatio: 1,
      layout: {
        padding: {
          left: 0,
          top: p.plot[1] - by,
          right: bx + bw - p.plot[2],
          bottom: 0
        }
      },
      scales: {
        x: makeAxis(p.x, true, by + bh - p.plot[3]),
        y: makeAxis(p.y, false, p.plot[0] - bx)
      },
      plugins: {
        legend: { display: false },
        tooltip: { enabled: false },
        frame: { box: p.box, texts: p.texts, feTickY: p.feTickY }
      }
    }
  });
}

function lineSet(points, width, tension) {
  return { data: points, showLine: true, borderColor: BLUE, borderWidth: width, pointRadius: 0, tension: tension, spanGaps: false };
}

function dotSet(points, radius, color) {
  return { data: points, showLine: false, pointRadius: radius, backgroundColor: color, borderColor: color, borderWidth: 0 };
}

function title(text, x, y, size) {
  return { segs: [{ t: text }], x: x, y: y, size: size, color: '#000' };
}

function specGrid() {
  return {
    drawTicks: false,
    lineWidth: 2.5,
    color: c => (c.tick && Math.abs(Math.log10(c.tick.value) + 4) < 0.01 ? '#dcdcdc' : 'rgba(0,0,0,0)')
  };
}

const rowA = 832;
const rowB = 819;

// row (a)
makePanel({
  box: [0, 0, 880, rowA], plot: [280, 86, 820, 646],
  datasets: [lineSet(zip(timeStamps, xHistory), 3.2, 0)],
  x: { min: 89.106, max: 91.382, ticks: timeTicks, labels: timeTickLabels, padding: 14, font: 49 },
  y: { min: -.03, max: -.015, ticks: xHistTicks, labels: xHistTickLabels, padding: 18, font: 49 },
  texts: [
    title('time history', 606, 66, 55),
    { segs: [{ t: '(a)' }], x: 60, y: 108, size: 55, color: '#000' },
    { segs: labelSegs('t', 's'), x: 550, y: 774 },
    { segs: labelSegs('x', 'm'), x: 92, y: 368, rotate: true }
  ]
});
makePanel({
  box: [880, 0, 820, rowA], plot: [1110, 88, 1650, 647],
  datasets: [
    dotSet(zip(xMarkFreq, amp(xMarkLog)), 13, '#fb5a0f'),
    lineSet(zip(xSpecFreq, amp(xSpecLog)), 3, 0)
  ],
  x: { min: .018, max: 4.788, ticks: specTicks, grid: { drawTicks: false, lineWidth: 2.5, color: '#dcdcdc' } },
  y: { type: 'logarithmic', min: Math.pow(10, -13.786), max: Math.pow(10, -1.226), ticks: xSpecDecades.map(v => Math.pow(10, v)), grid: specGrid() },
  feTickY: 722,
  texts: [
    title('frequency spectrum', 1380, 68, 55),
    { segs: [{ t: 'frequency(Hz)' }], x: 1381, y: 819, size: 60 },
    { segs: labelSegs('x', 'm'), x: 956, y: 368, rotate: true },
    { segs: [{ t: '10' }, { t: '-4', size: 46, dy: -27 }], x: 1041, y: 239, size: 51 },
    { segs: feSegs('', '/2'), x: 1174, y: 139, size: 50, color: '#000' },
    { segs: feSegs('3', '/2'), x: 1306, y: 139, size: 50, color: '#000' }
  ]
});
makePanel({
  box: [1700, 0, 890, rowA], plot: [1941, 88, 2482, 647],
  datasets: [lineSet(strokesToPoints(xPhaseStrokes), 2.4, .45)],
  x: { min: -.03, max: -.015, ticks: xHistTicks, labels: xHistTickLabels, padding: 24, font: 53 },
  y: { min: -2, max: 2, ticks: xPhaseVTicks, labels: xPhaseVLabels, padding: 24, font: 53 },
  texts: [
    title('phase diagram', 2210, 68, 55),
    { segs: labelSegs('x', 'm'), x: 2210, y: 799 },
    { segs: labelSegs('\u1e8b', 'm/s'), x: 1832, y: 370, rotate: true }
  ]
});
makePanel({
  box: [2590, 0, 746, rowA], plot: [2770, 86, 3313, 647],
  datasets: [dotSet(zip(xMapX, xMapV), 5, BLUE)],
  x: { min: -.02377, max: -.01684, ticks: xMapXTicks, labels: xMapXLabels, padding: 24, font: 53 },
  y: { min: -1.56, max: 1.472, ticks: xMapVTicks, labels: xMapVLabels, padding: 30, font: 53 },
  texts: [
    title('Poincaré map', 3041, 68, 55),
    { segs: labelSegs('x', 'm'), x: 3041, y: 799 },
    { segs: labelSegs('\u1e8b', 'm/s'), x: 2661, y: 368, rotate: true }
  ]
});

// row (b)
makePanel({
  box: [0, rowA, 870, rowB], plot: [277, 889, 844, 1434],
  datasets: [lineSet(zip(timeStamps, yHistory), 3.2, 0)],
  x: { min: 89.112, max: 91.378, ticks: timeTicks, labels: timeTickLabels, padding: 14, font: 47 },
  y: { min: -.03, max: -.02, ticks: yHistTicks, labels: yHistTickLabels, padding: 18, font: 47 },
  texts: [
    title('time history', 614, 871, 53),
    { segs: [{ t: '(b)' }], x: 67, y: 915, size: 55, color: '#000' },
    { segs: labelSegs('t', 's'), x: 559, y: 1561 },
    { segs: labelSegs('y', 'm'), x: 95, y: 1164, rotate: true }
  ]
});
makePanel({
  box: [870, rowA, 820, rowB], plot: [1081, 891, 1650, 1435],
  datasets: [
    dotSet(zip(yMarkFreq, amp(yMarkLog)), 13, '#fb5a0f'),
    lineSet(zip(ySpecFreq, amp(ySpecLog)), 3, 0)
  ],
  x: { min: .004, max: 4.79, ticks: specTicks, grid: { drawTicks: false, lineWidth: 2.5, color: '#dcdcdc' } },
  y: { type: 'logarithmic', min: Math.pow(10, -12.87), max: Math.pow(10, -1.16), ticks: ySpecDecades.map(v => Math.pow(10, v)), grid: specGrid() },
  feTickY: 1513,
  texts: [
    title('frequency spectrum', 1365, 871, 53),
    { segs: [{ t: 'frequency(Hz)' }], x: 1365, y: 1604, size: 58 },
    { segs: labelSegs('y', 'm'), x: 933, y: 1164, rotate: true },
    { segs: [{ t: '10' }, { t: '-4', size: 46, dy: -26 }], x: 1015, y: 1052, size: 51 },
    { segs: feSegs('', '/2'), x: 1144, y: 964, size: 50, color: '#000' },
    { segs: feSegs('3', '/2'), x: 1270, y: 964, size: 50, color: '#000' }
  ]
});
makePanel({
  box: [1690, rowA, 790, rowB], plot: [1885, 891, 2454, 1434],
  datasets: [lineSet(strokesToPoints(yPhaseStrokes), 2.4, .45)],
  x: { min: -.02979, max: -.02093, ticks: yPhaseXTicks, labels: yPhaseXLabels, padding: 24, font: 52 },
  y: { min: -1.369, max: 1.385, ticks: yPhaseVTicks, labels: yPhaseVLabels, padding: 25, font: 52 },
  texts: [
    title('phase diagram', 2168, 871, 53),
    { segs: labelSegs('y', 'm'), x: 2168, y: 1580 },
    { segs: labelSegs('\u1e8f', 'm/s'), x: 1737, y: 1167, rotate: true }
  ]
});
makePanel({
  box: [2480, rowA, 856, rowB], plot: [2687, 891, 3259, 1435],
  datasets: [dotSet(zip(yMapX, yMapV), 5, BLUE)],
  x: { min: -.024, max: -.02094, ticks: yMapXTicks, labels: yMapXLabels, padding: 24, font: 52 },
  y: { min: -.706, max: .61, ticks: yMapVTicks, labels: yMapVLabels, padding: 23, font: 52 },
  texts: [
    title('Poincaré map', 2973, 871, 53),
    { segs: labelSegs('y', 'm'), x: 2972, y: 1580 },
    { segs: labelSegs('\u1e8f', 'm/s'), x: 2541, y: 1167, rotate: true }
  ]
});
</script>
</body>
</html>
